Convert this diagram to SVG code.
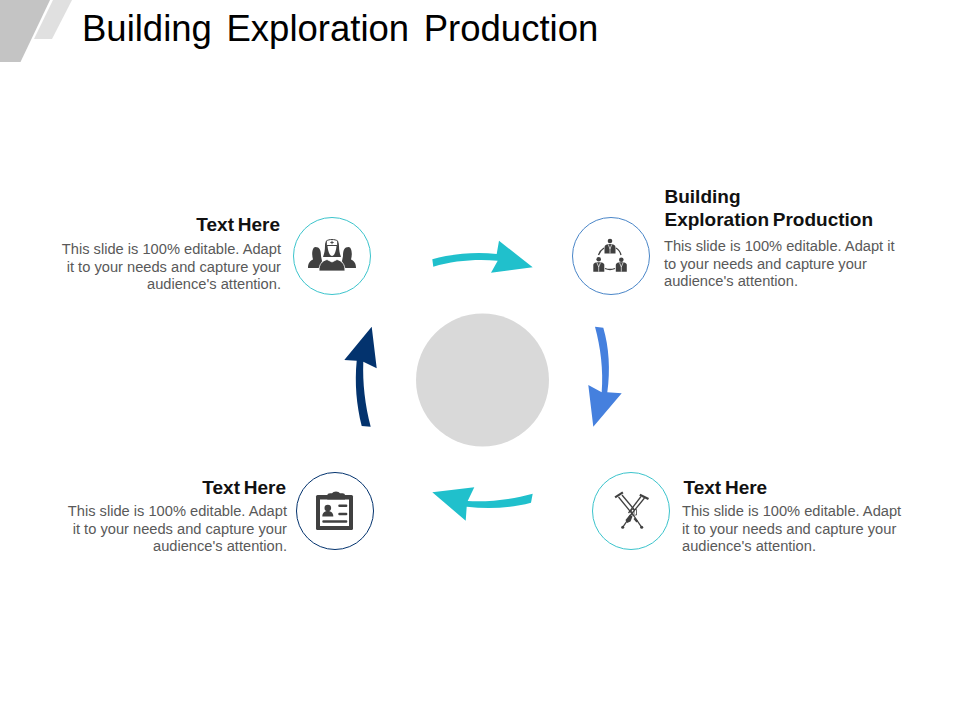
<svg xmlns="http://www.w3.org/2000/svg" width="960" height="720" viewBox="0 0 960 720">
<style>
text{font-family:"Liberation Sans",Arial,sans-serif}
.title{font-size:36.5px;fill:#000;word-spacing:4.500px}
.head{font-size:19px;font-weight:bold;fill:#111;word-spacing:-1.500px}
.body{font-size:14.670px;fill:#595959}
.end{text-anchor:end}
.ring{fill:#fff;stroke-width:1}
.ic{fill:#404040}
.icl{fill:none;stroke:#404040}
</style>
<rect width="960" height="720" fill="#fff"/>
<g id="corner">
<path d="M0 0H50L20.500 62H0Z" fill="#c4c4c4"/>
<path d="M53 0H72L52 39H34Z" fill="#e0e0e0"/>
</g>
<text class="title" x="82" y="41">Building Exploration Production</text>
<circle id="center" cx="482.500" cy="380" r="66.500" fill="#d9d9d9"/>
<g id="connectors">
<path d="M432.300 259.300C452 253.500 476 251.800 496.700 254L499 240.700L532.700 267.300L491 272.700L497.700 260.700C476 259 454 260.500 433.300 266.700Z" fill="#20c0cc"/>
<path d="M595 326.700L603.300 327.700C609 347 610.500 370 607.300 392.300L621.700 393.300L593.300 426.700L588.300 385L601.700 392.300C603.500 370 600.500 347 595 326.700Z" fill="#4580de"/>
<path d="M532.700 493.700L531 502.700C510 508.300 488 509 466.700 506.700L465.700 520.700L432.300 492.300L474.300 487.300L467.700 501C490 502 512 499.500 532.700 493.700Z" fill="#20c0cc"/>
<path d="M361.700 426L370.700 426.700C365 405 362.500 383 363.300 361.700L376.700 368.300L371.700 326.700L344.300 360L356.700 360.700C354.500 383 356.500 405 361.700 426Z" fill="#03336e"/>
</g>
<g id="node-nurses">
<circle class="ring" cx="332" cy="256" r="38.500" stroke="#3cc4cc"/>
<g class="ic">
<path d="M308 268C308 263 310 261 313 259.500C311.500 255 312 247 315.500 247C319.500 247 321 250 321 256L322 261L320 268Z"/>
<path d="M356 268C356 263 354 261 351 259.500C352.500 255 352 247 348.500 247C344.500 247 343 250 343 256L342 261L344 268Z"/>
<path d="M325 246C325 241 327 240 332 240C337 240 339 241 339 246C339 251 340 254 341 257H323C324 254 325 251 325 246Z"/>
<path d="M319 271C319 264 322 261 327 259.500L332 262L337 259.500C342 261 345 264 345 271Z" stroke="#fff" stroke-width="0.800"/>
</g>
<path d="M327.500 246C328 252 330 256 332 256C334 256 336 252 336.500 246Z" fill="#fff"/>
<path d="M326.300 245.500V241C329 239 335 239 337.700 241V245.500Z" fill="#fff" stroke="#404040"/>
<path d="M332 240.800V244.200M330.300 242.500H333.700" stroke="#404040" stroke-width="0.900"/>
</g>
<g id="node-team">
<circle class="ring" cx="611" cy="256" r="38.500" stroke="#4a86c8"/>
<g class="ic">
<circle cx="610" cy="241" r="2.300"/>
<path d="M604.500 253.500V247C604.500 245 607 244 610 244C613 244 615.500 245 615.500 247V253.500Z"/>
<circle cx="598.700" cy="259.300" r="2.300"/>
<path d="M593.300 271.700V265C593.300 263 596 262.300 598.700 262.300C601.500 262.300 604.300 263 604.300 265V271.700Z"/>
<circle cx="621.300" cy="259.800" r="2.300"/>
<path d="M615.800 271.700V265C615.800 263 618.500 262.300 621.300 262.300C624 262.300 626.800 263 626.800 265V271.700Z"/>
</g>
<path d="M598.500 255Q600 250.500 604 248M616 248Q620 250.500 621 255M605 268.500Q610 270.500 615 268.500" class="icl" stroke-width="1.300"/>
<path d="M608.300 244.500L610 249L611.700 244.500M610 249V253.500M597 262.800L598.700 267L600.400 262.800M598.700 267V271.700M619.600 262.800L621.300 267L623 262.800M621.300 267V271.700" fill="none" stroke="#fff" stroke-width="0.700"/>
</g>
<g id="node-crutches">
<circle class="ring" cx="631" cy="511" r="38.500" stroke="#3cc4cc"/>
<g fill="none" stroke="#404040" stroke-width="1.300">
<path d="M618.500 497L634 516"/>
<path d="M622 495L634.500 510"/>
<path d="M644.500 498L629 517"/>
<path d="M641 496.500L628.500 513"/>
<path d="M629 518L622.700 527.300"/>
<path d="M634 516L641.700 527.300"/>
<path d="M631.500 509.500H636.500V515H631.500Z" stroke-width="0.800"/>
<path d="M634 510.500V514" stroke-width="0.800"/>
</g>
<g class="ic">
<path d="M615.700 498.300L614.500 496.500L622.300 491.500L623.500 493.300Z"/>
<path d="M639.300 495.700L640.300 493.700L649 498L648 500Z"/>
<path d="M625.500 520L630 514.500L632.500 516.500L630.500 521.500L627 523Z"/>
<path d="M635 517.500L638 521L636.500 522.500L633.500 519Z"/>
<circle cx="622.700" cy="527.300" r="1.500"/>
<circle cx="641.700" cy="527.300" r="1.500"/>
</g>
</g>
<g id="node-clipboard">
<circle class="ring" cx="335" cy="511" r="38.500" stroke="#03336e"/>
<rect x="316" y="495" width="37" height="35" rx="1.500" fill="#404040"/>
<path d="M320 499.500H349V526H320Z" fill="#fff"/>
<path d="M327.300 499.500V495Q327.300 493.300 330 493.300H332Q333 491.500 336 491.500Q339 491.500 340 493.300H342.500Q345 493.300 345 495V499.500Z" fill="#404040"/>
<g class="ic">
<circle cx="327.800" cy="508" r="3.300"/>
<path d="M322.300 516.500C322.300 512.500 325 511 327.800 511C330.600 511 333.300 512.500 333.300 516.500Z"/>
<rect x="338.300" y="504.500" width="9" height="2.500" rx="1"/>
<rect x="338.300" y="512.800" width="9" height="2.500" rx="1"/>
<rect x="322.300" y="520.300" width="25" height="2.500" rx="1"/>
</g>
</g>
<g id="label-nurses">
<text class="head end" x="280" y="231">Text Here</text>
<text class="body end" x="281" y="254">This slide is 100% editable. Adapt</text>
<text class="body end" x="281" y="272">it to your needs and capture your</text>
<text class="body end" x="281" y="289">audience's attention.</text>
</g>
<g id="label-team">
<text class="head" x="664.500" y="203">Building</text>
<text class="head" x="664.500" y="226">Exploration Production</text>
<text class="body" x="664" y="251">This slide is 100% editable. Adapt it</text>
<text class="body" x="664" y="269">to your needs and capture your</text>
<text class="body" x="664" y="286">audience's attention.</text>
</g>
<g id="label-crutches">
<text class="head" x="683.500" y="494">Text Here</text>
<text class="body" x="682" y="516">This slide is 100% editable. Adapt</text>
<text class="body" x="682" y="534">it to your needs and capture your</text>
<text class="body" x="682" y="551">audience's attention.</text>
</g>
<g id="label-clipboard">
<text class="head end" x="286" y="494">Text Here</text>
<text class="body end" x="287" y="516">This slide is 100% editable. Adapt</text>
<text class="body end" x="287" y="534">it to your needs and capture your</text>
<text class="body end" x="287" y="551">audience's attention.</text>
</g>
</svg>
